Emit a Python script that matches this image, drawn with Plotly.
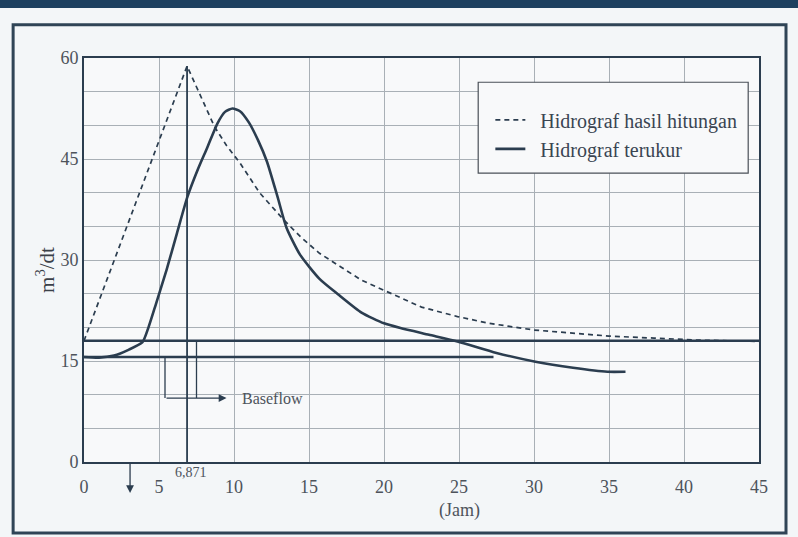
import plotly.graph_objects as go

# ---- data ----
hitungan_x = [0, 6.871, 8.7, 9.5, 10.4, 11.7, 12.5, 13.3, 14.5, 15.7, 17.1, 18.5, 20, 21.1, 22.5, 24.9, 27, 30, 32.5, 35, 38, 41, 45]
hitungan_y = [18, 58.8, 49.8, 47, 44.4, 40, 38, 36, 33.3, 31, 29, 27, 25.5, 24.4, 23, 21.6, 20.6, 19.6, 19.1, 18.7, 18.4, 18.1, 17.9]

terukur_x = [0, 1, 2, 3, 3.9, 4.3, 4.8, 5.5, 6.2, 6.9, 7.6, 8.2, 8.9, 9.4, 9.9, 10.4, 11.0, 11.6, 12.2, 12.9, 13.5, 14.4, 15.7, 17, 18.5, 20, 21.1, 23, 24.9, 27.5, 30.1, 32.6, 34.9, 36.1]
terukur_y = [15.6, 15.5, 15.8, 16.7, 17.8, 20, 23.5, 28.5, 34, 39.4, 43.5, 46.6, 50.3, 52, 52.5, 52.1, 50.4, 47.8, 44.6, 39.4, 34.8, 30.8, 27.2, 24.8, 22.2, 20.6, 19.9, 18.9, 17.9, 16.2, 14.9, 14.0, 13.4, 13.4]

baseflow_upper_x = [0, 45]
baseflow_upper_y = [18, 18]
baseflow_lower_x = [0, 27.3]
baseflow_lower_y = [15.6, 15.6]

tp_x = [6.871, 6.871]
tp_y = [0, 58.8]

bracket_left_x = [5.4, 5.4]
bracket_left_y = [15.6, 9.5]
bracket_right_x = [7.5, 7.5]
bracket_right_y = [18, 9.5]
bracket_arrow = dict(x0=5.4, x1=9.5, y=9.5)
down_arrow = dict(x=3.07, y0=0, y1=-4.6)

x_ticks = [0, 5, 10, 15, 20, 25, 30, 35, 40, 45]
y_ticks = [0, 15, 30, 45, 60]

LINE = "#2b3d4f"
TEXT = "#4d535b"
FONT = "Liberation Serif"

fig = go.Figure()
fig.add_trace(go.Scatter(x=hitungan_x, y=hitungan_y, mode="lines",
                         name="\u00a0\u00a0Hidrograf hasil hitungan",
                         line=dict(color=LINE, width=1.7, dash="5px,4px")))
fig.add_trace(go.Scatter(x=terukur_x, y=terukur_y, mode="lines",
                         name="\u00a0\u00a0Hidrograf terukur",
                         line=dict(color=LINE, width=2.6, shape="spline", smoothing=0.6)))
for xs, ys, w in [(baseflow_upper_x, baseflow_upper_y, 2.4),
                  (baseflow_lower_x, baseflow_lower_y, 2.4),
                  (tp_x, tp_y, 1.8),
                  (bracket_left_x, bracket_left_y, 1.3),
                  (bracket_right_x, bracket_right_y, 1.3)]:
    fig.add_trace(go.Scatter(x=xs, y=ys, mode="lines", showlegend=False,
                             hoverinfo="skip", line=dict(color=LINE, width=w)))

annotations = [
    dict(x=bracket_arrow["x1"], y=bracket_arrow["y"], ax=bracket_arrow["x0"], ay=bracket_arrow["y"],
         xref="x", yref="y", axref="x", ayref="y", text="", showarrow=True,
         arrowhead=2, arrowsize=1.2, arrowwidth=1.3, arrowcolor=LINE),
    dict(x=10.4, y=bracket_arrow["y"], xref="x", yref="y", text="Baseflow", showarrow=False,
         xanchor="left", yanchor="middle", font=dict(family=FONT, size=16, color=TEXT)),
    dict(x=down_arrow["x"], y=down_arrow["y1"], ax=down_arrow["x"], ay=down_arrow["y0"],
         xref="x", yref="y", axref="x", ayref="y", text="", showarrow=True,
         arrowhead=2, arrowsize=1.2, arrowwidth=1.3, arrowcolor=LINE),
    dict(x=tp_x[0], y=0, xref="x", yref="y", text="6,871", showarrow=False,
         xanchor="center", yanchor="top", xshift=4, yshift=-1,
         font=dict(family=FONT, size=14, color=TEXT)),
    dict(x=25, y=-0.119, xref="x", yref="paper", text="(Jam)", showarrow=False,
         xanchor="center", yanchor="middle", font=dict(family=FONT, size=18, color=TEXT)),
    dict(x=-0.058, y=0.475, xref="paper", yref="paper", text="m<sup>3</sup>/dt", showarrow=False,
         textangle=-90, xanchor="center", yanchor="middle",
         font=dict(family=FONT, size=21, color="#3a4048")),
]

shapes = [
    # top dark band
    dict(type="rect", xref="paper", yref="paper", x0=-0.2, x1=1.2, y0=1.124, y1=1.2,
         fillcolor="#1d4060", line=dict(width=0), layer="below"),
    # outer frame
    dict(type="rect", xref="paper", yref="paper", x0=-0.105, x1=1.04, y0=-0.176, y1=1.082,
         line=dict(color="#2f4456", width=3), layer="below"),
    # legend box
    dict(type="rect", xref="paper", yref="paper", x0=0.584, x1=0.984, y0=0.715, y1=0.94,
         fillcolor="#f8f9fa", line=dict(color="#4a5058", width=1.2), layer="above"),
]

fig.update_layout(
    width=798, height=537,
    margin=dict(l=84, r=39, t=58, b=75),
    paper_bgcolor="#f3f6f8",
    plot_bgcolor="#f8f9fa",
    font=dict(family=FONT, size=14, color=TEXT),
    showlegend=True,
    legend=dict(x=0.602, y=0.895, xanchor="left", yanchor="top",
                bgcolor="rgba(0,0,0,0)", borderwidth=0,
                font=dict(family=FONT, size=20, color="#3a4552"),
                tracegroupgap=0),
    annotations=annotations,
    shapes=shapes,
)
fig.update_xaxes(range=[0, 45], tickvals=x_ticks, showgrid=True, gridcolor="#a9b0b6", gridwidth=1,
                 zeroline=False, showline=True, linecolor=LINE, linewidth=2, mirror=True,
                 ticks="outside", ticklen=7, tickcolor="rgba(0,0,0,0)",
                 tickfont=dict(family=FONT, size=18, color=TEXT))
fig.update_yaxes(range=[0, 60], tickvals=y_ticks, showgrid=True, gridcolor="#a9b0b6", gridwidth=1,
                 minor=dict(dtick=5, showgrid=True, gridcolor="#a9b0b6", gridwidth=1),
                 zeroline=False, showline=True, linecolor=LINE, linewidth=2, mirror=True,
                 ticks="", tickfont=dict(family=FONT, size=18, color=TEXT))

fig.write_html("out.html", config={"displayModeBar": False},
               post_script="document.body.style.margin='0';")
